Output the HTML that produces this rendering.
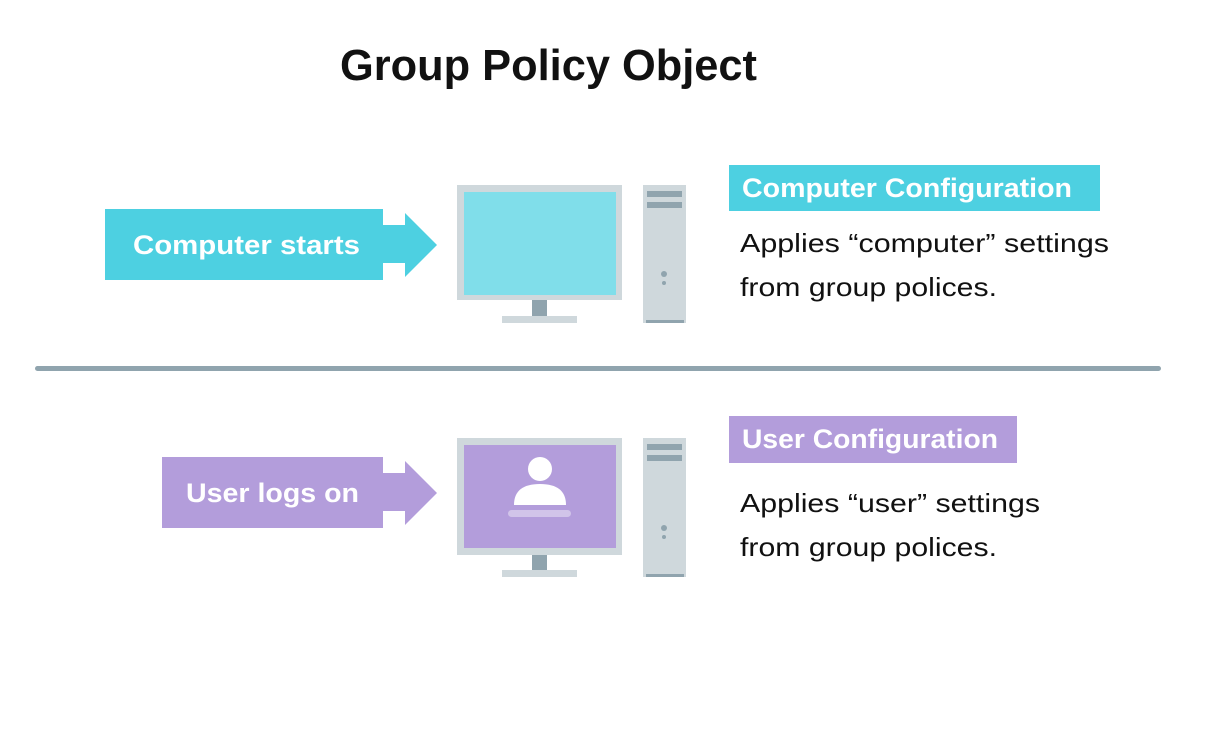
<!DOCTYPE html>
<html><head><meta charset="utf-8"><style>html,body{margin:0;padding:0;background:#fff;}svg{display:block}</style></head>
<body>
<svg width="1214" height="732" viewBox="0 0 1214 732" xmlns="http://www.w3.org/2000/svg" font-family="Liberation Sans, sans-serif">
<rect width="1214" height="732" fill="#fff"/>
<text x="340" y="80" font-size="44" font-weight="bold" fill="#111" textLength="417" lengthAdjust="spacingAndGlyphs">Group Policy Object</text>

<!-- top arrow -->
<rect x="105" y="209" width="278" height="71" fill="#4dd0e1"/>
<rect x="382" y="225" width="24" height="38" fill="#4dd0e1"/>
<polygon points="405,213 437,245 405,277" fill="#4dd0e1"/>
<text x="133" y="254" font-size="27" font-weight="bold" fill="#fff" textLength="227" lengthAdjust="spacingAndGlyphs">Computer starts</text>

<!-- top monitor -->
<rect x="457" y="185" width="165" height="115" fill="#cfd8dc"/>
<rect x="464" y="192" width="152" height="103" fill="#80deea"/>
<rect x="532" y="300" width="15" height="16" fill="#90a4ae"/>
<rect x="502" y="316" width="75" height="7" fill="#cfd8dc"/>
<rect x="643" y="185" width="43" height="138" fill="#cfd8dc"/>
<rect x="647" y="191" width="35" height="6" fill="#90a4ae"/>
<rect x="647" y="202" width="35" height="6" fill="#90a4ae"/>
<circle cx="664" cy="274" r="3" fill="#90a4ae"/>
<circle cx="664" cy="283" r="2" fill="#90a4ae"/>
<rect x="646" y="320" width="38" height="3" fill="#90a4ae"/>

<rect x="729" y="165" width="371" height="46" fill="#4dd0e1"/>
<text x="742" y="197" font-size="27" font-weight="bold" fill="#fff" textLength="330" lengthAdjust="spacingAndGlyphs">Computer Configuration</text>
<text x="740" y="252" font-size="26" fill="#111" textLength="369" lengthAdjust="spacingAndGlyphs">Applies “computer” settings</text>
<text x="740" y="296" font-size="26" fill="#111" textLength="257" lengthAdjust="spacingAndGlyphs">from group polices.</text>

<!-- divider -->
<rect x="35" y="366" width="1126" height="5" rx="2.5" fill="#90a4ae"/>

<!-- bottom arrow -->
<rect x="162" y="457" width="221" height="71" fill="#b39ddb"/>
<rect x="382" y="473" width="24" height="38" fill="#b39ddb"/>
<polygon points="405,461 437,493 405,525" fill="#b39ddb"/>
<text x="186" y="502" font-size="27" font-weight="bold" fill="#fff" textLength="173" lengthAdjust="spacingAndGlyphs">User logs on</text>

<!-- bottom monitor -->
<rect x="457" y="438" width="165" height="117" fill="#cfd8dc"/>
<rect x="464" y="445" width="152" height="103" fill="#b39ddb"/>
<circle cx="540" cy="469" r="12" fill="#fff"/>
<path d="M514,505 Q514,484 540,484 Q566,484 566,505 Z" fill="#fff"/>
<rect x="508" y="510" width="63" height="7" rx="3.5" fill="#d1c4e9"/>
<rect x="532" y="555" width="15" height="15" fill="#90a4ae"/>
<rect x="502" y="570" width="75" height="7" fill="#cfd8dc"/>
<rect x="643" y="438" width="43" height="139" fill="#cfd8dc"/>
<rect x="647" y="444" width="35" height="6" fill="#90a4ae"/>
<rect x="647" y="455" width="35" height="6" fill="#90a4ae"/>
<circle cx="664" cy="528" r="3" fill="#90a4ae"/>
<circle cx="664" cy="537" r="2" fill="#90a4ae"/>
<rect x="646" y="574" width="38" height="3" fill="#90a4ae"/>

<rect x="729" y="416" width="288" height="47" fill="#b39ddb"/>
<text x="742" y="448" font-size="27" font-weight="bold" fill="#fff" textLength="256" lengthAdjust="spacingAndGlyphs">User Configuration</text>
<text x="740" y="512" font-size="26" fill="#111" textLength="300" lengthAdjust="spacingAndGlyphs">Applies “user” settings</text>
<text x="740" y="556" font-size="26" fill="#111" textLength="257" lengthAdjust="spacingAndGlyphs">from group polices.</text>
</svg>
</body></html>
